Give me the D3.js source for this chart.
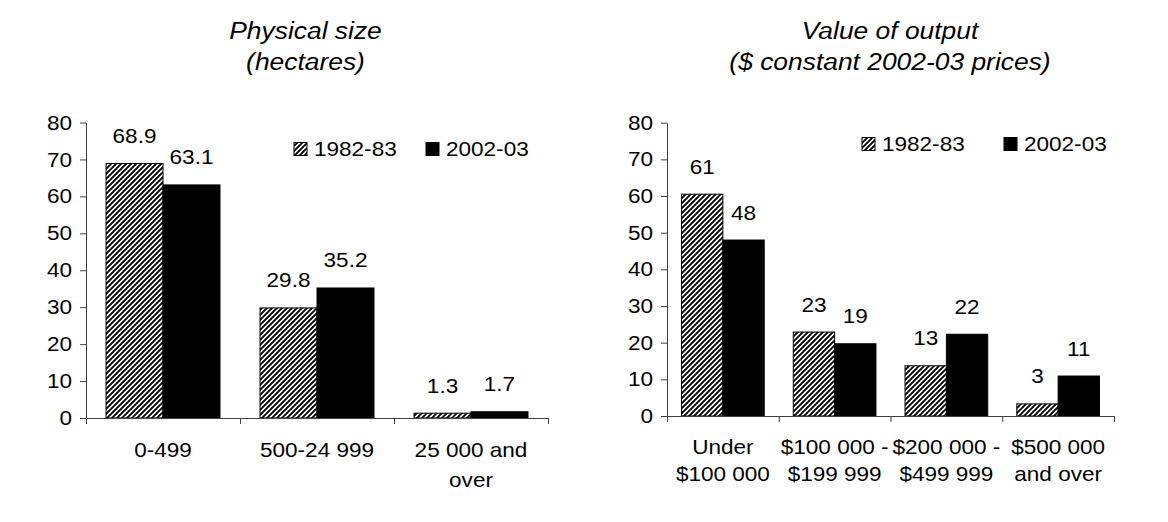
<!DOCTYPE html>
<html>
<head>
<meta charset="utf-8">
<script src="https://cdn.jsdelivr.net/npm/d3@7"></script>
<style>
	body { margin: 0; background: #fff; }
	svg { display: block; font-family: Arial, "Liberation Sans", sans-serif; }
</style>
</head>
<body>
<div class="container"></div>
<script>
// series names
var seriesNames = ['1982-83', '2002-03'];

// physical size (hectares)
var sizeTitle = ['Physical size', '(hectares)'];
var sizeCats = [['0-499'], ['500-24 999'], ['25 000 and', 'over']];
var sizeOld = [68.9, 29.8, 1.3];
var sizeNew = [63.1, 35.2, 1.7];
var sizeOldLabels = ['68.9', '29.8', '1.3'];
var sizeNewLabels = ['63.1', '35.2', '1.7'];

// value of output
var valueTitle = ['Value of output', '($ constant 2002-03 prices)'];
var valueCats = [['Under', '$100 000'], ['$100 000 -', '$199 999'], ['$200 000 -', '$499 999'], ['$500 000', 'and over']];
var valueOld = [60.5, 22.9, 13.7, 3.3];
var valueNew = [48, 19.7, 22.3, 10.9];
var valueOldLabels = ['61', '23', '13', '3'];
var valueNewLabels = ['48', '19', '22', '11'];

var yTicks = [0, 10, 20, 30, 40, 50, 60, 70, 80];

var	WIDTH = 1168,
	HEIGHT = 522,
	SX = 1.1,
	FONT = 20.5,
	TITLE_FONT = 24,
	AXIS = '#404040';

function translate(x, y) {
	return 'translate(' + x + ',' + y + ')';
}

function stretched(x, y) {
	return translate(x, y) + ' scale(' + SX + ',1)';
}

var svg = d3.select('.container').append('svg')
	.attr('width', WIDTH)
	.attr('height', HEIGHT);

var defs = svg.append('defs');
var hatch = defs.append('pattern')
	.attr('id', 'hatch')
	.attr('patternUnits', 'userSpaceOnUse')
	.attr('width', 5)
	.attr('height', 5);
hatch.append('rect').attr('width', 5).attr('height', 5).attr('fill', '#fff');
hatch.append('path')
	.attr('d', 'M-1,1 L1,-1 M0,5 L5,0 M4,6 L6,4')
	.attr('stroke', '#000')
	.attr('stroke-width', 1.9);

var fills = ['url(#hatch)', '#000'];

function drawPanel(cfg, title, cats, oldVals, newVals, oldLabels, newLabels) {
	var g = svg.append('g');
	var n = cats.length;

	var yScale = d3.scaleLinear()
		.domain([0, 80])
		.range([cfg.y0, cfg.yTop]);

	var xScale = d3.scaleBand()
		.domain(d3.range(n))
		.range([cfg.x0, cfg.x1])
		.paddingInner(0.26)
		.paddingOuter(0.13);

	var sub = d3.scaleBand()
		.domain([0, 1])
		.range([0, xScale.bandwidth()]);

	// title
	title.forEach(function(t, i) {
		g.append('text')
			.attr('transform', stretched(cfg.titleX, cfg.titleY[i]))
			.attr('text-anchor', 'middle')
			.attr('font-style', 'italic')
			.attr('font-size', TITLE_FONT)
			.text(t);
	});

	// bars
	var series = [oldVals, newVals];
	var labels = [oldLabels, newLabels];
	series.forEach(function(vals, s) {
		g.selectAll('.bar' + s)
			.data(vals).enter()
			.append('rect')
			.attr('x', function(d, i) { return xScale(i) + sub(s); })
			.attr('y', function(d) { return yScale(d); })
			.attr('width', sub.bandwidth())
			.attr('height', function(d) { return yScale(0) - yScale(d); })
			.attr('fill', fills[s])
			.attr('stroke', '#000')
			.attr('stroke-width', 1);

		g.selectAll('.lab' + s)
			.data(vals).enter()
			.append('text')
			.attr('transform', function(d, i) {
				return stretched(xScale(i) + sub(s) + sub.bandwidth() / 2, yScale(d) - 20.5);
			})
			.attr('text-anchor', 'middle')
			.attr('font-size', FONT)
			.text(function(d, i) { return labels[s][i]; });
	});

	// y axis
	var yAxis = d3.axisLeft(yScale)
		.tickValues(yTicks)
		.tickSize(6)
		.tickSizeOuter(0)
		.tickPadding(8);

	var yAxisGroup = g.append('g')
		.attr('transform', translate(cfg.x0, 0))
		.call(yAxis);
	yAxisGroup.selectAll('text')
		.attr('x', 0)
		.attr('transform', stretched(-14, 0))
		.attr('font-size', FONT)
		.attr('font-family', null)
		.attr('fill', '#000');

	// x axis: ticks between categories
	var xEdge = d3.scaleLinear().domain([0, n]).range([cfg.x0, cfg.x1]);
	var xAxis = d3.axisBottom(xEdge)
		.tickValues(d3.range(n + 1))
		.tickFormat('')
		.tickSize(6)
		.tickSizeOuter(0);

	var xAxisGroup = g.append('g')
		.attr('transform', translate(0, cfg.y0))
		.call(xAxis);

	[yAxisGroup, xAxisGroup].forEach(function(a) {
		a.selectAll('path, line').attr('stroke', AXIS);
	});

	// category labels
	cats.forEach(function(lines, i) {
		lines.forEach(function(t, j) {
			g.append('text')
				.attr('transform', stretched(xScale(i) + xScale.bandwidth() / 2, cfg.catY[j]))
				.attr('text-anchor', 'middle')
				.attr('font-size', FONT)
				.text(t);
		});
	});

	// legend
	seriesNames.forEach(function(name, s) {
		var lx = cfg.legendX[s];
		g.append('rect')
			.attr('x', lx)
			.attr('y', cfg.legendY - 6.5)
			.attr('width', 13)
			.attr('height', 13)
			.attr('fill', fills[s])
			.attr('stroke', '#000')
			.attr('stroke-width', 1);
		g.append('text')
			.attr('transform', stretched(lx + 20, cfg.legendY + 7))
			.attr('font-size', FONT)
			.text(name);
	});
}

drawPanel({
	x0: 86, x1: 548, y0: 418, yTop: 122.5,
	titleX: 305.5, titleY: [39, 70],
	catY: [457, 487],
	legendX: [294, 426], legendY: 149
}, sizeTitle, sizeCats, sizeOld, sizeNew, sizeOldLabels, sizeNewLabels);

drawPanel({
	x0: 667, x1: 1114, y0: 416, yTop: 122.7,
	titleX: 890, titleY: [39, 70],
	catY: [454, 481],
	legendX: [862, 1004], legendY: 144
}, valueTitle, valueCats, valueOld, valueNew, valueOldLabels, valueNewLabels);
</script>
</body>
</html>
